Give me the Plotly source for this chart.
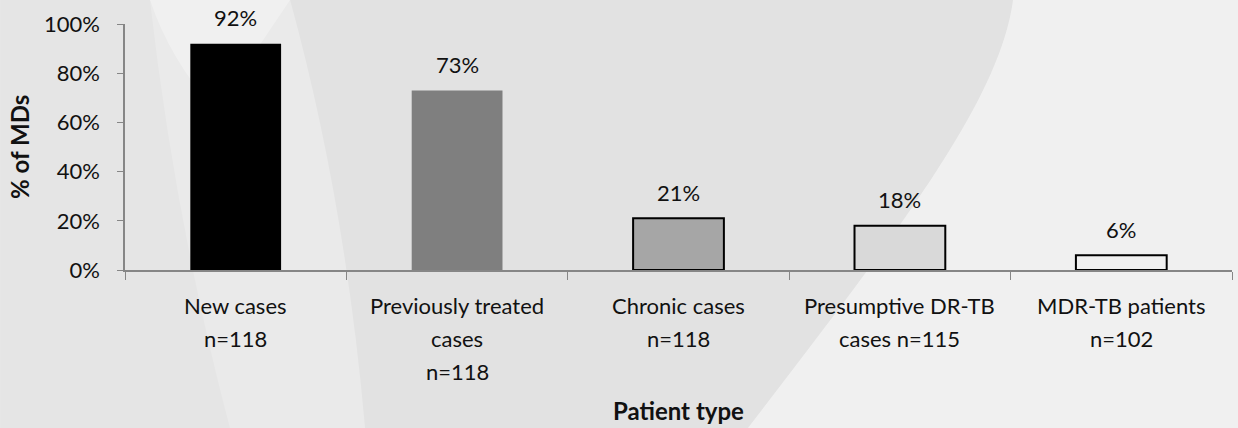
import plotly.graph_objects as go

# Share of MDs by patient type
categories = ["New cases", "Previously treated cases", "Chronic cases",
              "Presumptive DR-TB cases", "MDR-TB patients"]
label_lines = [
    ["New cases", "n=118"],
    ["Previously treated", "cases", "n=118"],
    ["Chronic cases", "n=118"],
    ["Presumptive DR-TB", "cases n=115"],
    ["MDR-TB patients", "n=102"],
]
values = [0.92, 0.73, 0.21, 0.18, 0.06]
value_labels = ["92%", "73%", "21%", "18%", "6%"]

bar_fill = ["#000000", "#7f7f7f", "#a6a6a6", "#d9d9d9", "rgba(0,0,0,0)"]
bar_edge = ["#000000", "#7f7f7f", "#000000", "#000000", "#000000"]
bar_edge_w = [0, 0, 2, 2, 2]

FONT = "Lato, Carlito, Calibri, sans-serif"
W, H = 1238, 428
ML, MR, MT, MB = 125, 6, 24, 158
PW, PH = W - ML - MR, H - MT - MB


def px_path(points):
    """Build an SVG path in paper coordinates from pixel-space commands."""
    out = []
    for p in points:
        if isinstance(p, str):
            out.append(p)
        else:
            x, y = p
            out.append(f"{(x - ML) / PW:.4f},{(H - MB - y) / PH:.4f}")
    return " ".join(out)


fig = go.Figure()
fig.add_trace(go.Bar(
    x=categories, y=values, width=0.41,
    marker=dict(color=bar_fill, line=dict(color=bar_edge, width=bar_edge_w)),
    hoverinfo="skip", showlegend=False,
))

annotations = []
# value labels above each bar
for c, v, t in zip(categories, values, value_labels):
    annotations.append(dict(x=c, y=v, xref="x", yref="y", text=t, showarrow=False,
                            yanchor="middle", yshift=26,
                            font=dict(family=FONT, size=22, color="#111111")))
# multi-line category labels below the axis
for c, lines in zip(categories, label_lines):
    for i, ln in enumerate(lines):
        annotations.append(dict(x=c, y=0, xref="x", yref="y", text=ln, showarrow=False,
                                yanchor="middle", yshift=-(35 + 33 * i),
                                font=dict(family=FONT, size=22, color="#111111")))
# axis titles
annotations.append(dict(x=0.5, y=0, xref="paper", yref="paper", text="<b>Patient type</b>",
                        showarrow=False, yanchor="middle", yshift=-140,
                        font=dict(family=FONT, size=24, color="#111111")))
annotations.append(dict(x=0, y=0.5, xref="paper", yref="paper", text="<b>% of MDs</b>",
                        showarrow=False, xanchor="center", xshift=-106, textangle=-90,
                        font=dict(family=FONT, size=24, color="#111111")))

# soft background panels (pixel points converted to paper coordinates)
shapes = [
    # slightly darker strip on the far left
    dict(type="path", xref="paper", yref="paper", layer="below", line=dict(width=0),
         fillcolor="rgba(0,0,0,0.018)",
         path=px_path(["M", (0, 0), "L", (150, 0), "Q", (175, 220), (230, 428),
                       "L", (0, 428), "Z"])),
    # darker sweep through the middle
    dict(type="path", xref="paper", yref="paper", layer="below", line=dict(width=0),
         fillcolor="rgba(0,0,0,0.032)",
         path=px_path(["M", (290, 0), "L", (1013, 0), "C", (1000, 100), (900, 230), (748, 428),
                       "L", (365, 428), "Q", (345, 200), (290, 0), "Z"])),
    # lighter area on the right
    dict(type="path", xref="paper", yref="paper", layer="below", line=dict(width=0),
         fillcolor="rgba(255,255,255,0.3)",
         path=px_path(["M", (1013, 0), "L", (1238, 0), "L", (1238, 428), "L", (748, 428),
                       "C", (900, 230), (1000, 100), (1013, 0), "Z"])),
    # light lens near the top left
    dict(type="path", xref="paper", yref="paper", layer="below", line=dict(width=0),
         fillcolor="rgba(255,255,255,0.3)",
         path=px_path(["M", (150, 0), "L", (290, 0), "Q", (250, 60), (215, 110),
                       "Q", (170, 60), (150, 0), "Z"])),
]

fig.update_layout(
    width=W, height=H,
    margin=dict(l=ML, r=MR, t=MT, b=MB),
    paper_bgcolor="#eaeaea", plot_bgcolor="rgba(0,0,0,0)",
    font=dict(family=FONT, size=22, color="#111111"),
    annotations=annotations, shapes=shapes,
    xaxis=dict(type="category", showticklabels=False, tickson="boundaries",
               ticks="outside", ticklen=8, tickcolor="#868686", tickwidth=1.2,
               showline=True, linecolor="#868686", linewidth=1.5,
               showgrid=False, zeroline=False, fixedrange=True),
    yaxis=dict(range=[0, 1], dtick=0.2, tickformat=".0%",
               ticks="outside", ticklen=6, tickcolor="#868686", tickwidth=1.2,
               showline=True, linecolor="#868686", linewidth=1.5,
               ticklabelstandoff=13, showgrid=False, zeroline=False,
               tickfont=dict(family=FONT, size=22, color="#111111"), fixedrange=True),
)

fig.write_html("out.html", config={"displayModeBar": False})
